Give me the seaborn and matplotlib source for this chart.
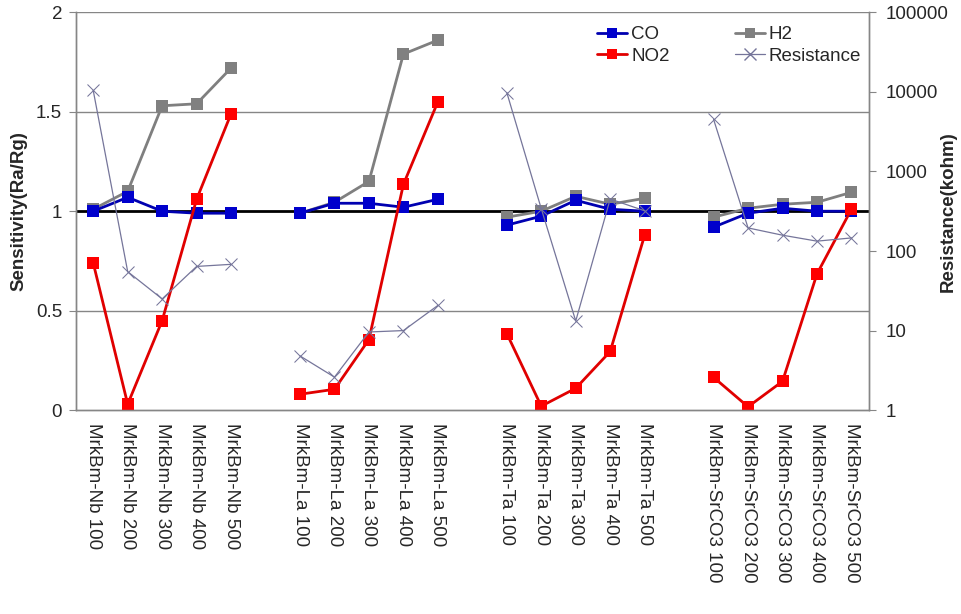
import numpy as np
import pandas as pd
import seaborn as sns
from matplotlib import pyplot as plt
from matplotlib.lines import Line2D
from matplotlib.ticker import FixedLocator, NullLocator

# category labels (empty string = gap between sample groups)
labels = [
    "MrkBm-Nb 100", "MrkBm-Nb 200", "MrkBm-Nb 300", "MrkBm-Nb 400", "MrkBm-Nb 500", "",
    "MrkBm-La 100", "MrkBm-La 200", "MrkBm-La 300", "MrkBm-La 400", "MrkBm-La 500", "",
    "MrkBm-Ta 100", "MrkBm-Ta 200", "MrkBm-Ta 300", "MrkBm-Ta 400", "MrkBm-Ta 500", "",
    "MrkBm-SrCO3 100", "MrkBm-SrCO3 200", "MrkBm-SrCO3 300", "MrkBm-SrCO3 400", "MrkBm-SrCO3 500",
]
groups = ["Nb"] * 6 + ["La"] * 6 + ["Ta"] * 6 + ["SrCO3"] * 5

nan = np.nan
co = [1.00, 1.07, 1.00, 0.99, 0.99, nan,
      0.99, 1.04, 1.04, 1.02, 1.06, nan,
      0.93, 0.975, 1.055, 1.01, 1.00, nan,
      0.92, 0.99, 1.015, 1.00, 1.00]
h2 = [1.01, 1.10, 1.53, 1.54, 1.72, nan,
      0.99, 1.045, 1.15, 1.79, 1.86, nan,
      0.97, 1.00, 1.075, 1.035, 1.065, nan,
      0.97, 1.015, 1.035, 1.045, 1.095]
no2 = [0.74, 0.03, 0.45, 1.06, 1.49, nan,
       0.08, 0.105, 0.355, 1.135, 1.55, nan,
       0.385, 0.02, 0.11, 0.295, 0.88, nan,
       0.165, 0.017, 0.145, 0.685, 1.01]
resistance = [10400, 55, 25, 64, 68, nan,
              4.8, 2.6, 9.6, 10.0, 20.7, nan,
              9800, 340, 13.2, 450, 320, nan,
              4500, 195, 158, 133, 146]

df = pd.DataFrame({
    "pos": np.arange(len(labels)),
    "group": groups,
    "CO": co,
    "H2": h2,
    "NO2": no2,
    "Resistance": resistance,
}).dropna()

sns.set_style("white")
plt.rcParams["font.family"] = ["Liberation Sans", "DejaVu Sans"]
FS = 13.5

fig, ax = plt.subplots(figsize=(9.62, 6.14), dpi=100)
fig.subplots_adjust(left=0.079, right=0.903, top=0.980, bottom=0.332)
ax2 = ax.twinx()

grid_c = "#868686"
ax.set_xlim(-0.5, len(labels) - 0.5)
ax.set_ylim(0, 2)
ax.set_yticks([0, 0.5, 1, 1.5, 2])
ax.set_yticklabels(["0", "0.5", "1", "1.5", "2"])
for yv in [0.5, 1.5, 2]:
    ax.axhline(yv, color=grid_c, lw=1.0, zorder=0)
ax.axhline(1, color="black", lw=2.0, zorder=1)

style = dict(units="group", estimator=None, legend=False, markeredgewidth=0)
sns.lineplot(data=df, x="pos", y="CO", ax=ax, color="#0000B0", lw=2.0,
             marker="s", markersize=8, markerfacecolor="#0000CC", zorder=4, **style)
sns.lineplot(data=df, x="pos", y="H2", ax=ax, color="#7F7F7F", lw=2.0,
             marker="s", markersize=8, markerfacecolor="#808080", zorder=3, **style)
sns.lineplot(data=df, x="pos", y="NO2", ax=ax, color="#E00000", lw=2.0,
             marker="s", markersize=8, markerfacecolor="#FF0000", zorder=5, **style)
sns.lineplot(data=df, x="pos", y="Resistance", ax=ax2, color="#75759A", lw=0.9,
             marker="x", markersize=8, markeredgecolor="#75759A", units="group",
             estimator=None, legend=False)

ax2.set_yscale("log")
ax2.set_ylim(1, 100000)
ax2.yaxis.set_major_locator(FixedLocator([1, 10, 100, 1000, 10000, 100000]))
ax2.yaxis.set_minor_locator(NullLocator())
ax2.set_yticklabels(["1", "10", "100", "1000", "10000", "100000"])

# x axis: labels at centres, tick marks at category boundaries
ax.set_xticks(np.arange(len(labels)))
ax.set_xticklabels(labels, rotation=270, va="top", ha="center", fontsize=FS)
ax.xaxis.set_minor_locator(FixedLocator(np.arange(-0.5, len(labels) + 0.5, 1)))
ax.tick_params(axis="x", which="major", length=0, pad=9)
ax.tick_params(axis="x", which="minor", length=5, color=grid_c, direction="out")
ax.tick_params(axis="y", length=5, color=grid_c, direction="out", labelsize=FS, left=True, pad=5)
ax2.tick_params(axis="y", length=5, color=grid_c, direction="out", labelsize=FS, right=True, pad=7)
ax.set_xlabel("")
ax.set_ylabel("Sensitivity(Ra/Rg)", fontsize=FS, fontweight="bold", labelpad=6)
ax2.set_ylabel("Resistance(kohm)", fontsize=FS, fontweight="bold")
ax2.yaxis.set_label_coords(1.090, 0.5)

for a in (ax, ax2):
    for side in ["right", "left", "bottom"]:
        a.spines[side].set_color(grid_c)
        a.spines[side].set_linewidth(1.0)
    a.spines["top"].set_visible(False)

# legend
handles = [
    Line2D([], [], color="#0000B0", lw=2, marker="s", markersize=7, markerfacecolor="#0000CC", markeredgewidth=0),
    Line2D([], [], color="#E00000", lw=2, marker="s", markersize=7, markerfacecolor="#FF0000", markeredgewidth=0),
    Line2D([], [], color="#7F7F7F", lw=2, marker="s", markersize=7, markerfacecolor="#808080", markeredgewidth=0),
    Line2D([], [], color="#75759A", lw=0.9, marker="x", markersize=8),
]
ax2.legend(handles, ["CO", "NO2", "H2", "Resistance"], ncol=2, loc="upper right",
           bbox_to_anchor=(1.012, 1.008), frameon=False, fontsize=FS,
           handlelength=1.6, handletextpad=0.2, columnspacing=3.5, labelspacing=0.25)

plt.savefig("out.png", dpi=100)
plt.close()
